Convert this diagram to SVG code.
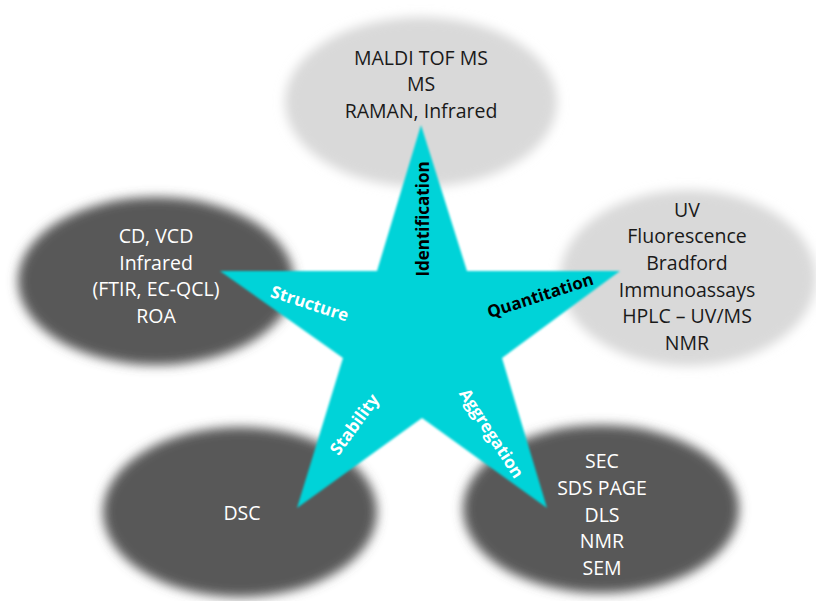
<svg xmlns="http://www.w3.org/2000/svg" width="816" height="601" viewBox="0 0 816 601">
<defs>
<filter id="blur" x="-20%" y="-20%" width="140%" height="140%"><feGaussianBlur stdDeviation="5.5"/></filter>
<filter id="soft" x="-5%" y="-5%" width="110%" height="110%"><feGaussianBlur stdDeviation="1.2"/></filter>
</defs>
<style>
.light{fill:#D9D9D9;filter:url(#blur)}
.dark{fill:#585858;filter:url(#blur)}
.t{font-family:"Open Sans","Liberation Sans",sans-serif;font-size:19.5px;text-anchor:middle}
.tw{fill:#FFFFFF}
.tb{fill:#1A1A1A}
.lab{font-family:"Open Sans","Liberation Sans",sans-serif;font-size:17px;font-weight:bold;text-anchor:middle;dominant-baseline:central}
</style>
<rect width="816" height="601" fill="#FFFFFF"/>
<g id="identification-methods">
<ellipse class="light" cx="421" cy="102" rx="136" ry="85"/>
<text class="t tb" x="421" y="65">MALDI TOF MS</text>
<text class="t tb" x="421" y="91">MS</text>
<text class="t tb" x="421" y="118">RAMAN, Infrared</text>
</g>
<g id="structure-methods">
<ellipse class="dark" cx="156" cy="281" rx="138" ry="84"/>
<text class="t tw" x="156" y="243">CD, VCD</text>
<text class="t tw" x="156" y="270">Infrared</text>
<text class="t tw" x="156" y="296">(FTIR, EC-QCL)</text>
<text class="t tw" x="156" y="323">ROA</text>
</g>
<g id="quantitation-methods">
<ellipse class="light" cx="688" cy="278" rx="128" ry="88"/>
<text class="t tb" x="687" y="217">UV</text>
<text class="t tb" x="687" y="243">Fluorescence</text>
<text class="t tb" x="687" y="270">Bradford</text>
<text class="t tb" x="687" y="297">Immunoassays</text>
<text class="t tb" x="687" y="323">HPLC – UV/MS</text>
<text class="t tb" x="687" y="350">NMR</text>
</g>
<g id="stability-methods">
<ellipse class="dark" cx="240" cy="512" rx="137" ry="85"/>
<text class="t tw" x="242" y="520">DSC</text>
</g>
<g id="aggregation-methods">
<ellipse class="dark" cx="601" cy="509" rx="138" ry="84"/>
<text class="t tw" x="602" y="468">SEC</text>
<text class="t tw" x="602" y="495">SDS PAGE</text>
<text class="t tw" x="602" y="522">DLS</text>
<text class="t tw" x="602" y="548">NMR</text>
<text class="t tw" x="602" y="575">SEM</text>
</g>
<g id="star">
<polygon fill="#05D3D8" filter="url(#soft)" points="421,125 467,271 620,271 502,358 547,508 422,418 297,508 343,358 220,271 377,271"/>
<text class="lab" fill="#000000" transform="translate(422,219) rotate(-90)">Identification</text>
<text class="lab" fill="#000000" transform="translate(540,295) rotate(-18)">Quantitation</text>
<text class="lab" fill="#FFFFFF" transform="translate(310,303) rotate(18)">Structure</text>
<text class="lab" fill="#FFFFFF" transform="translate(354,424) rotate(-54)">Stability</text>
<text class="lab" fill="#FFFFFF" transform="translate(492,433) rotate(57)">Aggregation</text>
</g>
<g id="connectors"/>
</svg>
